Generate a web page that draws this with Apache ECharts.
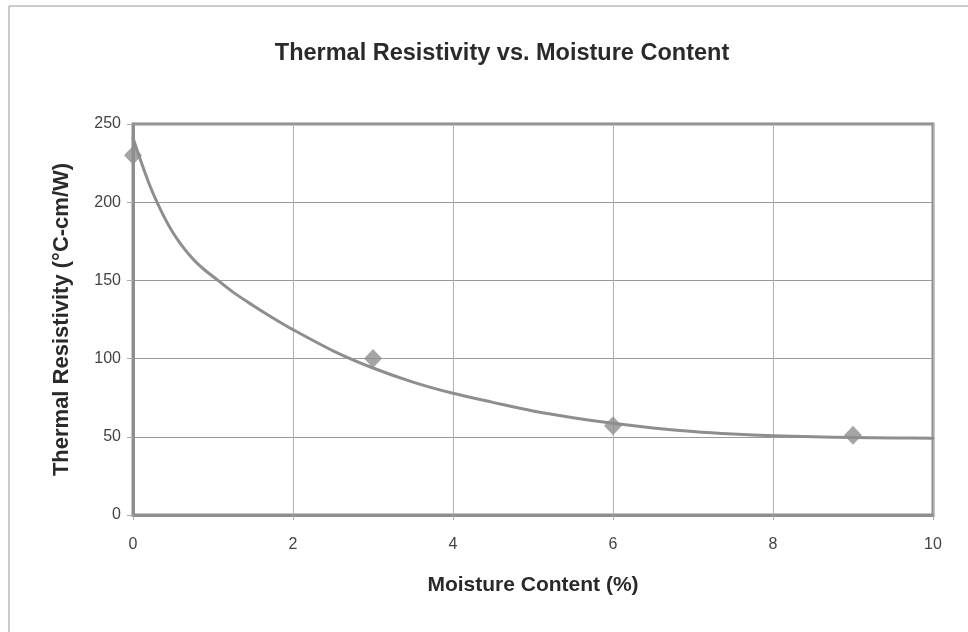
<!DOCTYPE html>
<html>
<head>
<meta charset="utf-8">
<script src="https://cdn.jsdelivr.net/npm/echarts@6/dist/echarts.min.js"></script>
<style>
html,body{margin:0;padding:0;background:#fff;}
#c{width:968px;height:632px;}
</style>
</head>
<body>
<div id="c"></div>
<script>
var moisture = [0, 3, 6, 9];
var resistivity = [230, 100, 57, 51];
var trendX = [0, 0.1, 0.2, 0.3, 0.4, 0.5, 0.6, 0.7, 0.8, 0.9, 1, 1.25, 1.5, 1.75, 2, 2.5, 3, 3.5, 4, 4.5, 5, 5.5, 6, 6.5, 7, 7.5, 8, 8.5, 9, 9.5, 10];
var trendY = [241, 226, 212, 200, 189.5, 180.5, 173, 166.5, 161, 156.5, 152.5, 142.5, 134, 126, 118.5, 105, 94, 85, 77.8, 72, 66.5, 62.2, 58.6, 55.7, 53.4, 51.8, 50.7, 50, 49.6, 49.3, 49.1];
var xTicks = [0, 2, 4, 6, 8, 10];
var yTicks = [0, 50, 100, 150, 200, 250];

var chart = echarts.init(document.getElementById('c'), null, {renderer: 'canvas'});
var gray = '#8e8e8e';
var font = 'Liberation Sans, Arial, sans-serif';
chart.setOption({
  backgroundColor: '#fff',
  animation: false,
  title: {
    text: 'Thermal Resistivity vs. Moisture Content',
    left: 497, top: 37, textAlign: 'center',
    textStyle: {fontFamily: font, fontSize: 23.5, fontWeight: 'bold', color: '#2a2a2a'}
  },
  graphic: [{
    type: 'polyline', silent: true,
    shape: {points: [[9, 640], [9, 6], [975, 6]]},
    style: {stroke: '#999', lineWidth: 1, fill: null}
  }],
  grid: {left: 133, right: 35, top: 124, bottom: 117, show: true, borderColor: gray, borderWidth: 3},
  xAxis: {
    type: 'value', min: xTicks[0], max: xTicks[xTicks.length - 1], interval: 2,
    name: 'Moisture Content (%)', nameLocation: 'middle', nameGap: 60,
    nameTextStyle: {fontFamily: font, fontSize: 21, fontWeight: 'bold', color: '#2a2a2a'},
    axisLine: {show: true, lineStyle: {color: gray, width: 3}},
    axisTick: {show: true, length: 5, inside: false, lineStyle: {color: '#aaa', width: 1}},
    axisLabel: {fontFamily: font, fontSize: 16, color: '#444', margin: 22},
    splitLine: {show: true, lineStyle: {color: '#b0b0b0', width: 1}}
  },
  yAxis: {
    type: 'value', min: yTicks[0], max: yTicks[yTicks.length - 1], interval: 50,
    name: 'Thermal Resistivity (°C-cm/W)', nameLocation: 'middle', nameGap: 60, nameRotate: 90,
    nameTextStyle: {fontFamily: font, fontSize: 22, fontWeight: 'bold', color: '#2a2a2a'},
    axisLine: {show: true, lineStyle: {color: gray, width: 3}},
    axisTick: {show: true, length: 6, inside: false, lineStyle: {color: '#aaa', width: 1}},
    axisLabel: {fontFamily: font, fontSize: 16, color: '#444', margin: 12},
    splitLine: {show: true, lineStyle: {color: '#999', width: 1}}
  },
  series: [{
    type: 'line', smooth: 0.3, showSymbol: false, silent: true,
    data: trendX.map(function (x, i) { return [x, trendY[i]]; }),
    lineStyle: {color: gray, width: 3, cap: 'round', join: 'round'}, z: 2
  }, {
    type: 'scatter', symbol: 'diamond', symbolSize: [18, 19],
    data: moisture.map(function (x, i) { return [x, resistivity[i]]; }),
    itemStyle: {color: gray}, z: 3
  }]
});
</script>
</body>
</html>
